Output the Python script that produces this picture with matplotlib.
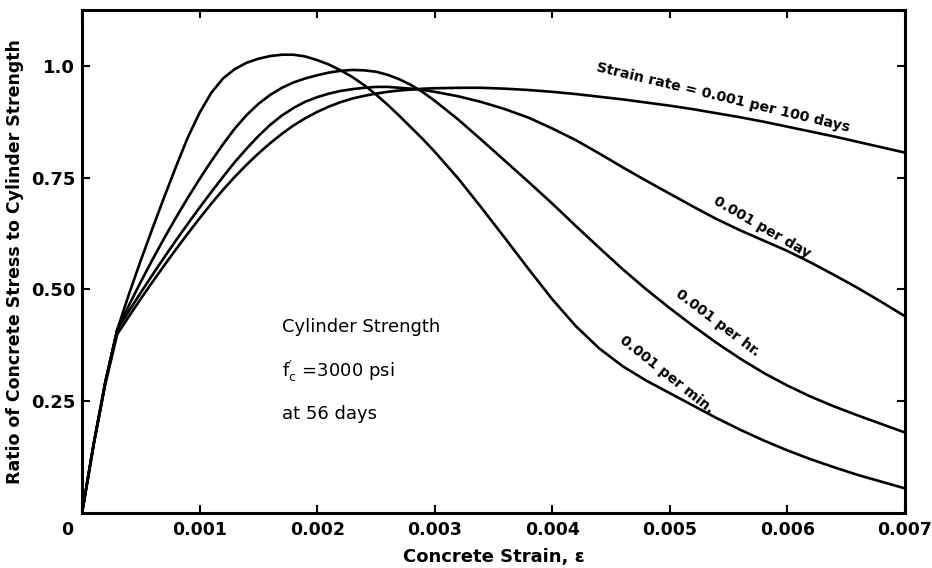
import matplotlib.pyplot as plt
from matplotlib.transforms import ScaledTranslation

plt.rcParams["font.family"] = ["DejaVu Sans"]
plt.rcParams["mathtext.default"] = "regular"

# ---------------------------------------------------------------------------
# Data
# ---------------------------------------------------------------------------
strain = [0, 0.0001, 0.0002, 0.0003, 0.0004, 0.0005, 0.0006, 0.0007, 0.0008,
          0.0009, 0.0010, 0.0011, 0.0012, 0.0013, 0.0014, 0.0015, 0.0016,
          0.0017, 0.0018, 0.0019, 0.0020, 0.0021, 0.0022, 0.0023, 0.0024,
          0.0025, 0.0026, 0.0027, 0.0028, 0.0029, 0.0030, 0.0032, 0.0034,
          0.0036, 0.0038, 0.0040, 0.0042, 0.0044, 0.0046, 0.0048, 0.0050,
          0.0052, 0.0054, 0.0056, 0.0058, 0.0060, 0.0062, 0.0064, 0.0066,
          0.0068, 0.0070]

ratio_per_min = [0, 0.155, 0.295, 0.41, 0.49, 0.565, 0.637, 0.707, 0.775,
                 0.84, 0.895, 0.94, 0.972, 0.993, 1.007, 1.016, 1.022,
                 1.025, 1.025, 1.021, 1.013, 1.003, 0.99, 0.975, 0.957,
                 0.936, 0.913, 0.888, 0.862, 0.836, 0.808, 0.748, 0.682,
                 0.614, 0.545, 0.478, 0.418, 0.368, 0.328, 0.296, 0.268,
                 0.24, 0.212, 0.186, 0.162, 0.14, 0.12, 0.102, 0.085,
                 0.07, 0.055]

ratio_per_hr = [0, 0.155, 0.295, 0.41, 0.465, 0.517, 0.567, 0.615, 0.661,
                0.705, 0.747, 0.787, 0.825, 0.86, 0.89, 0.915, 0.935,
                0.951, 0.963, 0.972, 0.979, 0.985, 0.989, 0.991, 0.99,
                0.987, 0.98, 0.97, 0.957, 0.941, 0.922, 0.88, 0.834,
                0.787, 0.74, 0.692, 0.642, 0.593, 0.545, 0.50, 0.458,
                0.418, 0.38, 0.345, 0.313, 0.285, 0.26, 0.238, 0.218,
                0.199, 0.18]

ratio_per_day = [0, 0.155, 0.295, 0.41, 0.452, 0.493, 0.533, 0.572, 0.61,
                 0.647, 0.683, 0.718, 0.752, 0.785, 0.815, 0.843, 0.868,
                 0.889, 0.906, 0.92, 0.93, 0.938, 0.944, 0.948, 0.951,
                 0.953, 0.953, 0.951, 0.949, 0.946, 0.942, 0.932, 0.919,
                 0.903, 0.884, 0.86, 0.834, 0.804, 0.773, 0.743, 0.714,
                 0.685, 0.657, 0.632, 0.609, 0.586, 0.56, 0.532, 0.503,
                 0.472, 0.44]

ratio_per_100days = [0, 0.155, 0.29, 0.40, 0.44, 0.479, 0.517, 0.554, 0.59,
                     0.625, 0.659, 0.692, 0.723, 0.752, 0.779, 0.804, 0.827,
                     0.848, 0.867, 0.883, 0.897, 0.909, 0.919, 0.927, 0.933,
                     0.938, 0.942, 0.945, 0.947, 0.949, 0.95, 0.951, 0.951,
                     0.949, 0.946, 0.942, 0.937, 0.931, 0.925, 0.918, 0.911,
                     0.903, 0.894, 0.885, 0.875, 0.864, 0.853, 0.842, 0.83,
                     0.818, 0.806]

x_ticks = [0, 0.001, 0.002, 0.003, 0.004, 0.005, 0.006, 0.007]
x_tick_labels = ["0", "0.001", "0.002", "0.003", "0.004", "0.005", "0.006", "0.007"]
y_ticks = [0.25, 0.50, 0.75, 1.0]
y_tick_labels = ["0.25", "0.50", "0.75", "1.0"]

# ---------------------------------------------------------------------------
# Figure
# ---------------------------------------------------------------------------
fig = plt.figure(figsize=(9.32, 5.68), dpi=100)
ax = fig.add_axes([82 / 932, 1 - 513 / 568, 823 / 932, 503 / 568])
ax.set_xlim(0, 0.007)
ax.set_ylim(0, 1.125)

for series in (ratio_per_min, ratio_per_hr, ratio_per_day, ratio_per_100days):
    ax.plot(strain, series, color="black", lw=1.9,
            solid_joinstyle="round", solid_capstyle="round")

for sp in ax.spines.values():
    sp.set_linewidth(2.2)

ax.set_xticks(x_ticks)
ax.set_xticklabels(x_tick_labels)
ax.set_yticks(y_ticks)
ax.set_yticklabels(y_tick_labels)
ax.tick_params(direction="in", top=True, right=True, length=6, width=1.5,
               labelsize=12.5, pad=6)
ax.tick_params(axis="y", labelsize=13, pad=5)
for lab in ax.get_xticklabels() + ax.get_yticklabels():
    lab.set_fontweight("bold")

# the "0" at the origin sits a little left of the corner
zero = ax.get_xticklabels()[0]
zero.set_transform(zero.get_transform()
                   + ScaledTranslation(-15 / 100, 0, fig.dpi_scale_trans))

ax.set_xlabel("Concrete Strain, ε", fontsize=13, fontweight="bold", labelpad=6)
ax.set_ylabel("Ratio of Concrete Stress to Cylinder Strength",
              fontsize=12.5, fontweight="bold", labelpad=5)

# ---- curve labels -----------------------------------------------------
lab_kw = dict(ha="center", va="center", rotation_mode="anchor",
              fontsize=10.2, fontweight="bold")
ax.text(0.00545, 0.929, "Strain rate = 0.001 per 100 days", rotation=-13.5, **lab_kw)
ax.text(0.00578, 0.638, "0.001 per day", rotation=-30, **lab_kw)
ax.text(0.00541, 0.426, "0.001 per hr.", rotation=-37, **lab_kw)
ax.text(0.00497, 0.31, "0.001 per min.", rotation=-38.5, **lab_kw)

# ---- note -------------------------------------------------------------
note_kw = dict(ha="left", va="center", fontsize=13)
ax.text(0.0017, 0.415, "Cylinder Strength", **note_kw)
ax.text(0.0017, 0.317, r"$f^{\prime}_{c}$ =3000 psi", **note_kw)
ax.text(0.0017, 0.221, "at 56 days", **note_kw)

fig.savefig("out.png", dpi=100)
